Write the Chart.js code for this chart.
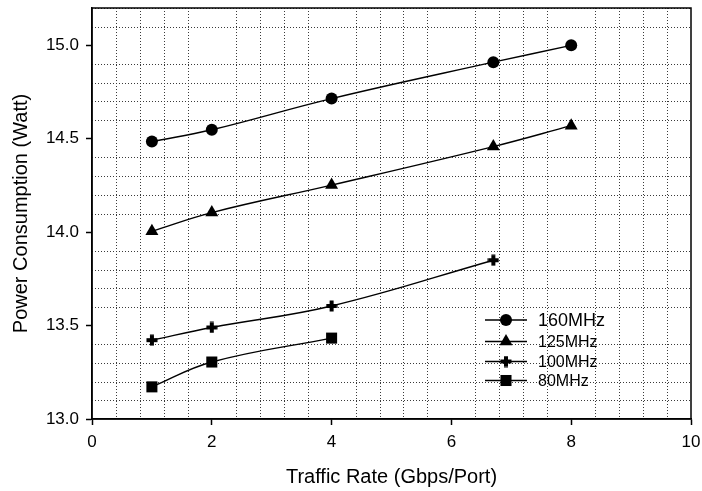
<!DOCTYPE html>
<html>
<head>
<meta charset="utf-8">
<script src="https://cdn.jsdelivr.net/npm/chart.js@4/dist/chart.umd.min.js"></script>
<style>
  html, body { margin: 0; padding: 0; background: #fff; }
  #wrap { width: 702px; height: 491px; position: relative; }
</style>
</head>
<body>
<div id="wrap"><canvas id="c" width="702" height="491"></canvas></div>
<script>
// ---- Data ----
const seriesLabels = ['160MHz', '125MHz', '100MHz', '80MHz'];
const x160 = [1, 2, 4, 6.7, 8];
const y160 = [14.485, 14.548, 14.715, 14.91, 15.0];
const x125 = [1, 2, 4, 6.7, 8];
const y125 = [14.005, 14.105, 14.252, 14.458, 14.57];
const x100 = [1, 2, 4, 6.7];
const y100 = [13.422, 13.49, 13.605, 13.85];
const x80 = [1, 2, 4];
const y80 = [13.172, 13.305, 13.433];
const xTicks = [0, 2, 4, 6, 8, 10];
const yTicks = [13.0, 13.5, 14.0, 14.5, 15.0];

const FONT = '"Liberation Sans", Arial, sans-serif';

// thick plus marker
function makePlus() {
  const c = document.createElement('canvas');
  c.width = 12; c.height = 12;
  const g = c.getContext('2d');
  g.fillStyle = '#000';
  g.beginPath();
  g.moveTo(4, 0.5); g.lineTo(8, 0.5); g.lineTo(8, 4); g.lineTo(11.5, 4);
  g.lineTo(11.5, 8); g.lineTo(8, 8); g.lineTo(8, 11.5); g.lineTo(4, 11.5);
  g.lineTo(4, 8); g.lineTo(0.5, 8); g.lineTo(0.5, 4); g.lineTo(4, 4);
  g.closePath(); g.fill();
  return c;
}
const plus = makePlus();

function pts(xs, ys) { return xs.map((x, i) => ({ x: x, y: ys[i] })); }

const styles = [
  { pointStyle: 'circle', pointRadius: 6 },
  { pointStyle: 'triangle', pointRadius: 7.5 },
  { pointStyle: plus, pointRadius: 6 },
  { pointStyle: 'rect', pointRadius: 7.8 }
];
const xsAll = [x160, x125, x100, x80];
const ysAll = [y160, y125, y100, y80];

const datasets = seriesLabels.map((lab, i) => ({
  label: lab,
  data: pts(xsAll[i], ysAll[i]),
  borderColor: '#000',
  backgroundColor: '#000',
  borderWidth: 1.4,
  pointStyle: styles[i].pointStyle,
  pointRadius: styles[i].pointRadius,
  pointHoverRadius: styles[i].pointRadius,
  pointBackgroundColor: '#000',
  pointBorderColor: '#000',
  pointBorderWidth: 0,
  tension: 0.4,
  fill: false
}));

// dotted minor grid + frame + legend
const gridPlugin = {
  id: 'dotgrid',
  beforeDatasetsDraw(chart) {
    const ctx = chart.ctx, a = chart.chartArea;
    const xs = chart.scales.x, ys = chart.scales.y;
    ctx.save();
    ctx.strokeStyle = '#3a3a3a';
    ctx.lineWidth = 1;
    ctx.setLineDash([1, 2]);
    for (let k = 1; k < 25; k++) {
      if (k % 5 === 0) continue;
      const v = k * 0.4;
      const px = Math.round(xs.getPixelForValue(v)) + 0.5;
      ctx.beginPath(); ctx.moveTo(px, a.top); ctx.lineTo(px, a.bottom); ctx.stroke();
    }
    for (let k = 1; k <= 22; k++) {
      if (k % 5 === 0) continue;
      const v = 13 + k * 0.1;
      const py = Math.round(ys.getPixelForValue(v)) + 0.5;
      ctx.beginPath(); ctx.moveTo(a.left, py); ctx.lineTo(a.right, py); ctx.stroke();
    }
    ctx.restore();
  },
  afterDraw(chart) {
    const ctx = chart.ctx, a = chart.chartArea;
    ctx.save();
    ctx.strokeStyle = '#000';
    ctx.lineWidth = 1.5;
    ctx.setLineDash([]);
    ctx.strokeRect(a.left, a.top, a.right - a.left, a.bottom - a.top);
    // legend
    const rows = [320, 341.5, 361.5, 380.5];
    const sizes = [18, 16, 16, 16];
    chart.data.datasets.forEach((ds, i) => {
      const y = rows[i];
      ctx.strokeStyle = '#000'; ctx.lineWidth = 1.4;
      ctx.beginPath(); ctx.moveTo(485, y); ctx.lineTo(527, y); ctx.stroke();
      const mx = 506;
      ctx.fillStyle = '#000';
      const ps = ds.pointStyle, r = ds.pointRadius;
      if (ps === 'circle') {
        ctx.beginPath(); ctx.arc(mx, y, r, 0, Math.PI * 2); ctx.fill();
      } else if (ps === 'triangle') {
        ctx.beginPath();
        for (let j = 0; j < 3; j++) {
          const ang = j * 2 * Math.PI / 3;
          const px = mx + Math.sin(ang) * r, py = y - Math.cos(ang) * r;
          j === 0 ? ctx.moveTo(px, py) : ctx.lineTo(px, py);
        }
        ctx.closePath(); ctx.fill();
      } else if (ps === 'rect') {
        const s = r * Math.SQRT1_2;
        ctx.fillRect(mx - s, y - s, 2 * s, 2 * s);
      } else {
        ctx.drawImage(ps, mx - ps.width / 2, y - ps.height / 2);
      }
      ctx.font = sizes[i] + 'px ' + FONT;
      ctx.textBaseline = 'middle';
      ctx.textAlign = 'left';
      ctx.fillText(ds.label, 538, y + 1);
    });
    ctx.restore();
  }
};

new Chart(document.getElementById('c'), {
  type: 'line',
  data: { datasets: datasets },
  plugins: [gridPlugin],
  options: {
    responsive: false,
    animation: false,
    events: [],
    layout: { padding: { top: 8, right: 11, left: 0, bottom: 0 } },
    plugins: { legend: { display: false }, tooltip: { enabled: false } },
    scales: {
      x: {
        type: 'linear', min: 0, max: 10,
        afterFit(s) { s.height = 72; s.paddingLeft = 0; s.paddingRight = 0; },
        afterBuildTicks(s) { s.ticks = xTicks.map(v => ({ value: v })); },
        ticks: { color: '#000', font: { size: 17, family: FONT }, padding: 7, maxRotation: 0,
                 callback: v => String(v) },
        grid: { drawOnChartArea: false, drawTicks: true, tickLength: 6, tickColor: '#000', tickWidth: 1.5 },
        border: { display: true, color: '#000', width: 1.5 },
        title: { display: true, text: 'Traffic Rate (Gbps/Port)', color: '#000',
                 font: { size: 20, family: FONT }, padding: { top: 0, bottom: 2 } }
      },
      y: {
        type: 'linear', min: 13, max: 15.2,
        afterFit(s) { s.width = 92; s.paddingTop = 0; s.paddingBottom = 0; },
        afterBuildTicks(s) { s.ticks = yTicks.map(v => ({ value: v })); },
        ticks: { color: '#000', font: { size: 17, family: FONT }, padding: 7,
                 callback: v => Number(v).toFixed(1) },
        grid: { drawOnChartArea: false, drawTicks: true, tickLength: 6, tickColor: '#000', tickWidth: 1.5 },
        border: { display: true, color: '#000', width: 1.5 },
        title: { display: true, text: 'Power Consumption (Watt)', color: '#000',
                 font: { size: 20, family: FONT }, padding: { top: 9, bottom: 0 } }
      }
    }
  }
});
</script>
</body>
</html>
